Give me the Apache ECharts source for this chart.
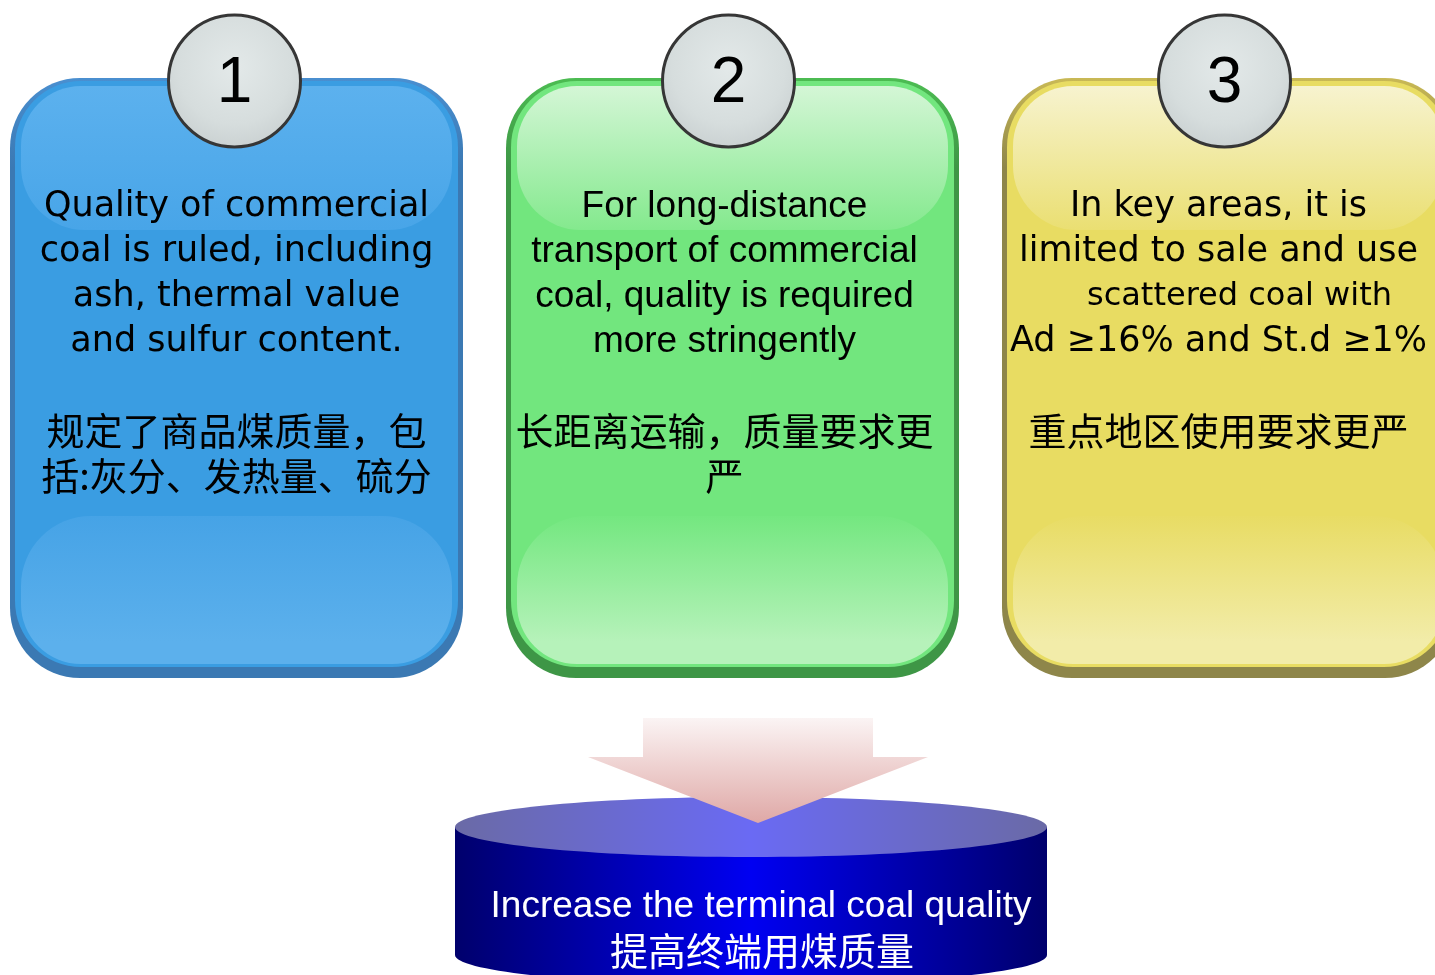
<!DOCTYPE html>
<html>
<head>
<meta charset="utf-8">
<title>Coal quality requirements</title>
<script src="https://cdn.jsdelivr.net/npm/echarts@6/dist/echarts.min.js"></script>
<style>
  html, body { margin: 0; padding: 0; background: #ffffff; }
  #main { width: 1435px; height: 975px; }
</style>
</head>
<body>
<div id="main"></div>
<script>
// ---- content ----
const stepNumbers = ['1', '2', '3'];

const stepTextEn = [
  ['Quality of commercial', 'coal is ruled, including', 'ash, thermal value', 'and sulfur content.'],
  ['For long-distance', 'transport of commercial', 'coal, quality is required', 'more stringently'],
  ['In key areas, it is', 'limited to sale and use', 'scattered coal with', 'Ad \u226516% and St.d \u22651%']
];

const stepTextZh = [
  ['规定了商品煤质量，包', '括:灰分、发热量、硫分'],
  ['长距离运输，质量要求更', '严'],
  ['重点地区使用要求更严']
];

const resultTextEn = 'Increase the terminal coal quality';
const resultTextZh = '提高终端用煤质量';

// ---- look ----
const palettes = [
  { edge: '#3b79b3', edgeTop: '#4a8fd0', body: '#3a9de2', glossTop: '#5cb1ee', glossTopEnd: '#48a5e8',
    glossBottomStart: '#46a3e6', glossBottom: '#5cb0ec', fontEn: 'DejaVu Sans', sizeEn: 35 },
  { edge: '#3e9646', edgeTop: '#4cbc52', body: '#72e67e', glossTop: '#d4f6d6', glossTopEnd: '#84e98e',
    glossBottomStart: '#74e780', glossBottom: '#b6f2ba', fontEn: 'Liberation Sans', sizeEn: 37 },
  { edge: '#8e864a', edgeTop: '#c9b955', body: '#e8dc62', glossTop: '#f7f3cf', glossTopEnd: '#eadf72',
    glossBottomStart: '#e8dc64', glossBottom: '#f2eca9', fontEn: 'DejaVu Sans', sizeEn: 35 }
];

// ---- layout ----
const W = 1435, H = 975;
const boxLeft = 10, boxPitch = 496, boxW = 453, boxTop = 78, boxH = 600, boxR = 70;
const textShift = [0, -8, -10];
const badgeShift = [-2, -4, -4];
const badgeR = 66, badgeCy = 81;
const lineH = 45, enTop = 207, zhTop = 431;
const zhFont = 'Noto Sans CJK SC';
// per-line tweaks: the third line of box 3 is set a little smaller and further right
const lineTweak = { '2-2': { size: 32, dx: 21 } };

const cyl = { cx: 751, rx: 296, ry: 30, top: 827, bottom: 955 };
const arrow = { cx: 758, shaftHalf: 115, headHalf: 170, top: 718, neck: 757, tip: 823 };

function vGrad(c0, c1, s0, s1) {
  return new echarts.graphic.LinearGradient(0, 0, 0, 1, [
    { offset: s0 === undefined ? 0 : s0, color: c0 },
    { offset: s1 === undefined ? 1 : s1, color: c1 }
  ]);
}

const elements = [];

stepNumbers.forEach(function (num, i) {
  const p = palettes[i];
  const x0 = boxLeft + i * boxPitch;
  const cx = x0 + boxW / 2;
  const tx = cx + textShift[i];
  const bx = cx + badgeShift[i];

  // bevelled frame
  elements.push({
    type: 'rect', z: 1,
    shape: { x: x0, y: boxTop, width: boxW, height: boxH, r: boxR },
    style: { fill: vGrad(p.edgeTop, p.edge, 0, 0.15) }
  });
  elements.push({
    type: 'rect', z: 2,
    shape: { x: x0 + 5, y: boxTop + 3, width: boxW - 10, height: boxH - 14, r: boxR - 4 },
    style: { fill: p.body }
  });
  // upper gloss
  elements.push({
    type: 'rect', z: 3,
    shape: { x: x0 + 11, y: boxTop + 8, width: boxW - 22, height: 144, r: [boxR - 10, boxR - 10, 64, 64] },
    style: { fill: vGrad(p.glossTop, p.glossTopEnd, 0, 1) }
  });
  // lower gloss
  elements.push({
    type: 'rect', z: 3,
    shape: { x: x0 + 11, y: boxTop + 438, width: boxW - 22, height: boxH - 438 - 14, r: [70, 70, 60, 60] },
    style: { fill: vGrad(p.glossBottomStart, p.glossBottom, 0, 0.85) }
  });

  // numbered badge
  elements.push({
    type: 'circle', z: 5,
    shape: { cx: bx, cy: badgeCy, r: badgeR },
    style: {
      fill: new echarts.graphic.RadialGradient(0.5, 0.4, 0.7, [
        { offset: 0, color: '#e3e9e9' },
        { offset: 0.6, color: '#d6dddd' },
        { offset: 1, color: '#c4cbcc' }
      ]),
      stroke: '#363636', lineWidth: 3
    }
  });
  elements.push({
    type: 'text', z: 6,
    x: bx, y: badgeCy + 3,
    style: { text: num, fill: '#000', fontSize: 64, fontFamily: 'Liberation Sans', align: 'center', verticalAlign: 'middle' }
  });

  // English description
  stepTextEn[i].forEach(function (line, k) {
    const tw = lineTweak[i + '-' + k] || {};
    elements.push({
      type: 'text', z: 6,
      x: tx + (tw.dx || 0), y: enTop + k * lineH,
      style: { text: line, fill: '#000', fontSize: tw.size || p.sizeEn, fontFamily: p.fontEn, align: 'center', verticalAlign: 'middle' }
    });
  });
  // Chinese description
  stepTextZh[i].forEach(function (line, k) {
    elements.push({
      type: 'text', z: 6,
      x: tx, y: zhTop + k * lineH,
      style: { text: line, fill: '#000', fontSize: 38, fontFamily: zhFont, align: 'center', verticalAlign: 'middle' }
    });
  });
});

// cylinder
const sideGrad = new echarts.graphic.LinearGradient(0, 0, 1, 0, [
  { offset: 0, color: '#00006c' },
  { offset: 0.5, color: '#0000f2' },
  { offset: 1, color: '#00006c' }
]);
elements.push({
  type: 'ellipse', z: 10,
  shape: { cx: cyl.cx, cy: cyl.bottom, rx: cyl.rx, ry: cyl.ry },
  style: { fill: sideGrad }
});
elements.push({
  type: 'rect', z: 10,
  shape: { x: cyl.cx - cyl.rx, y: cyl.top, width: cyl.rx * 2, height: cyl.bottom - cyl.top },
  style: { fill: sideGrad }
});
elements.push({
  type: 'ellipse', z: 11,
  shape: { cx: cyl.cx, cy: cyl.top, rx: cyl.rx, ry: cyl.ry },
  style: {
    fill: new echarts.graphic.LinearGradient(0, 0, 1, 0, [
      { offset: 0, color: '#6a6aa6' },
      { offset: 0.5, color: '#6a6af4' },
      { offset: 1, color: '#6a6aa6' }
    ])
  }
});

// downward arrow
const a = arrow;
elements.push({
  type: 'polygon', z: 12,
  shape: {
    points: [
      [a.cx - a.shaftHalf, a.top], [a.cx + a.shaftHalf, a.top], [a.cx + a.shaftHalf, a.neck],
      [a.cx + a.headHalf, a.neck], [a.cx, a.tip], [a.cx - a.headHalf, a.neck], [a.cx - a.shaftHalf, a.neck]
    ]
  },
  style: { fill: vGrad('#fbf4f4', '#dfa8a6', 0, 1) }
});

elements.push({
  type: 'text', z: 13,
  x: 761, y: 907,
  style: { text: resultTextEn, fill: '#ffffff', fontSize: 37, fontFamily: 'Liberation Sans', align: 'center', verticalAlign: 'middle' }
});
elements.push({
  type: 'text', z: 13,
  x: 762, y: 951,
  style: { text: resultTextZh, fill: '#ffffff', fontSize: 38, fontFamily: zhFont, align: 'center', verticalAlign: 'middle' }
});

const chart = echarts.init(document.getElementById('main'), null, { width: W, height: H, renderer: 'canvas' });
chart.setOption({
  backgroundColor: '#ffffff',
  animation: false,
  graphic: { elements: elements }
});
</script>
</body>
</html>
